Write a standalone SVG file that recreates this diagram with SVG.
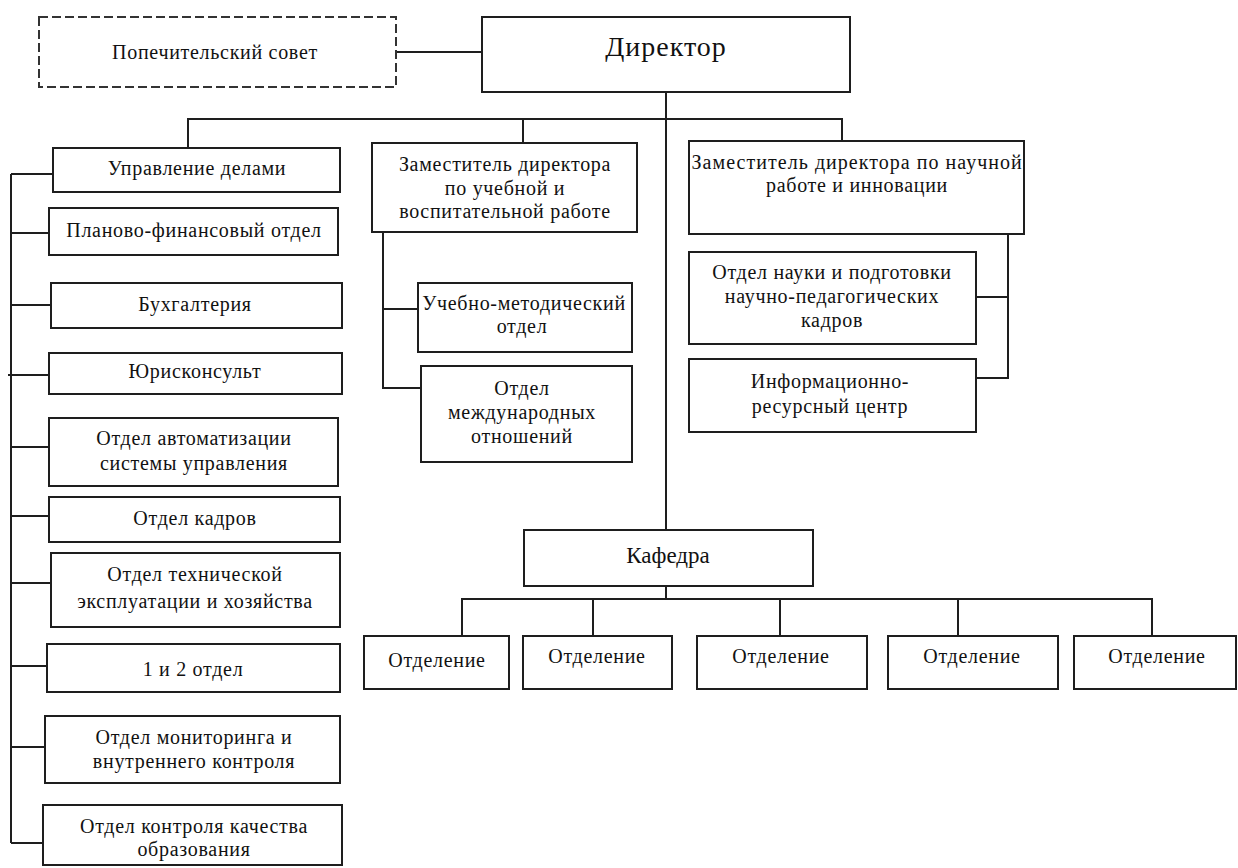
<svg xmlns="http://www.w3.org/2000/svg" width="1238" height="868" viewBox="0 0 1238 868">
<style>
.box{fill:#fff;stroke:#1e1e1e;stroke-width:2}
.dash{fill:#fff;stroke:#333;stroke-width:2;stroke-dasharray:9 4}
.ln{fill:none;stroke:#1e1e1e;stroke-width:2}
text{font-family:"Liberation Serif","Times New Roman",serif;font-size:20px;letter-spacing:0.7px;fill:#111;text-anchor:middle}
.big{font-size:28px;letter-spacing:1px}
.mid{font-size:23px;letter-spacing:0}
</style>
<rect width="1238" height="868" fill="#fff"/>
<g id="connectors">
<path class="ln" d="M396 52H482"/>
<path class="ln" d="M666 92V530"/>
<path class="ln" d="M188 148V119H842V141"/>
<path class="ln" d="M523 119V143"/>
<path class="ln" d="M11 174V843"/>
<path class="ln" d="M11 174H53M11 233H49M11 305H51M8 375H49M11 447H49M11 516H49M11 583H51M11 666H47M11 747H45M11 843H43"/>
<path class="ln" d="M383 232V388H421M383 309H418"/>
<path class="ln" d="M1008 234V378H976M1008 297H976"/>
<path class="ln" d="M666 586V599M462 636V599H1152V636M593 599V636M780 599V636M958 599V636"/>
</g>
<g id="popechitelsky"><rect class="dash" x="39" y="17" width="357" height="70"/><text x="215" y="59">Попечительский совет</text></g>
<g id="director"><rect class="box" x="482" y="17" width="368" height="75"/><text class="big" x="666" y="56">Директор</text></g>
<g id="upravlenie"><rect class="box" x="53" y="148" width="287" height="44"/><text x="197" y="175">Управление делами</text></g>
<g id="planovo"><rect class="box" x="49" y="208" width="289" height="47"/><text x="194" y="237">Планово-финансовый отдел</text></g>
<g id="buh"><rect class="box" x="51" y="283" width="291" height="45"/><text x="195" y="311">Бухгалтерия</text></g>
<g id="yurist"><rect class="box" x="49" y="353" width="293" height="41"/><text x="195" y="378">Юрисконсульт</text></g>
<g id="avtomat"><rect class="box" x="49" y="418" width="289" height="68"/><text x="194" y="445">Отдел автоматизации</text><text x="194" y="470">системы управления</text></g>
<g id="kadrov"><rect class="box" x="49" y="497" width="291" height="45"/><text x="195" y="525">Отдел кадров</text></g>
<g id="tehn"><rect class="box" x="51" y="553" width="289" height="74"/><text x="195" y="581">Отдел технической</text><text x="195" y="608">эксплуатации и хозяйства</text></g>
<g id="otdel12"><rect class="box" x="47" y="644" width="293" height="48"/><text x="193" y="676">1 и 2 отдел</text></g>
<g id="monitoring"><rect class="box" x="45" y="716" width="295" height="67"/><text x="194" y="744">Отдел мониторинга и</text><text x="194" y="768">внутреннего контроля</text></g>
<g id="kachestvo"><rect class="box" x="43" y="805" width="299" height="60"/><text x="194" y="833">Отдел контроля качества</text><text x="194" y="856">образования</text></g>
<g id="zam-ucheb"><rect class="box" x="372" y="143" width="265" height="89"/><text x="505" y="171">Заместитель директора</text><text x="505" y="195">по учебной и</text><text x="505" y="218">воспитательной работе</text></g>
<g id="uchebno-metod"><rect class="box" x="418" y="283" width="214" height="69"/><text x="524" y="310">Учебно-методический</text><text x="522" y="333">отдел</text></g>
<g id="mezhdunar"><rect class="box" x="421" y="366" width="211" height="96"/><text x="522" y="395">Отдел</text><text x="522" y="419">международных</text><text x="522" y="443">отношений</text></g>
<g id="zam-nauch"><rect class="box" x="689" y="141" width="335" height="93"/><text x="857" y="169" textLength="331" lengthAdjust="spacing">Заместитель директора по научной</text><text x="857" y="192">работе и инновации</text></g>
<g id="nauka"><rect class="box" x="689" y="252" width="287" height="92"/><text x="832" y="279">Отдел науки и подготовки</text><text x="832" y="303">научно-педагогических</text><text x="832" y="327">кадров</text></g>
<g id="irc"><rect class="box" x="689" y="359" width="287" height="73"/><text x="830" y="388">Информационно-</text><text x="830" y="413">ресурсный центр</text></g>
<g id="kafedra"><rect class="box" x="524" y="530" width="289" height="56"/><text class="mid" x="668" y="563">Кафедра</text></g>
<g id="otd1"><rect class="box" x="364" y="636" width="145" height="53"/><text x="437" y="667">Отделение</text></g>
<g id="otd2"><rect class="box" x="523" y="636" width="149" height="53"/><text x="597" y="663">Отделение</text></g>
<g id="otd3"><rect class="box" x="697" y="636" width="170" height="53"/><text x="781" y="663">Отделение</text></g>
<g id="otd4"><rect class="box" x="888" y="636" width="170" height="53"/><text x="972" y="663">Отделение</text></g>
<g id="otd5"><rect class="box" x="1074" y="636" width="162" height="53"/><text x="1157" y="663">Отделение</text></g>
</svg>
